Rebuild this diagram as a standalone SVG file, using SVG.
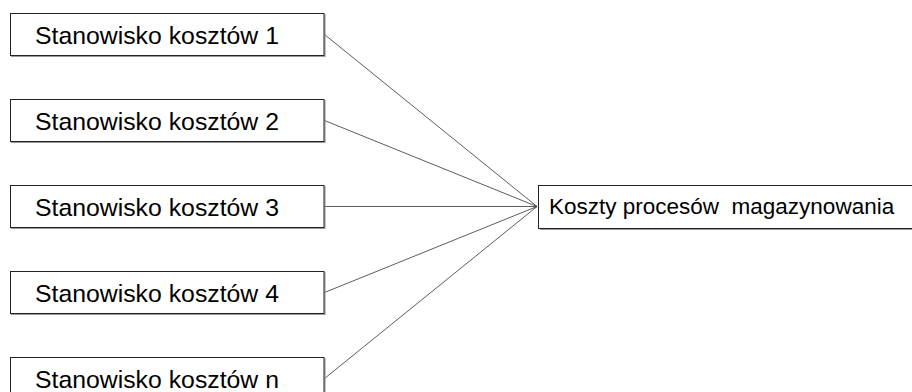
<svg xmlns="http://www.w3.org/2000/svg" width="912" height="392" viewBox="0 0 912 392">
<style>
.box{fill:#fff;stroke:#222;stroke-width:1}
.shadow{fill:none;stroke:#999;stroke-width:1.2}
.lbl{font-family:"Liberation Sans",Arial,sans-serif;font-size:24.8px;fill:#000}
.lblr{font-family:"Liberation Sans",Arial,sans-serif;font-size:22.5px;fill:#000}
.conn{stroke:#333;stroke-width:0.8;fill:none}
</style>
<rect width="912" height="392" fill="#fff"/>
<g id="connectors">
<line class="conn" x1="324.5" y1="34.5" x2="537" y2="206.5"/>
<line class="conn" x1="324.5" y1="120.5" x2="537" y2="206.5"/>
<line class="conn" x1="324.5" y1="206.5" x2="537" y2="206.5"/>
<line class="conn" x1="324.5" y1="292.5" x2="537" y2="206.5"/>
<line class="conn" x1="324.5" y1="378.5" x2="537" y2="206.5"/>
</g>
<g id="node1">
<path class="shadow" d="M11 56.5 H325 V14"/>
<rect class="box" x="10.5" y="13.5" width="313.5" height="42"/>
<text class="lbl" x="35" y="44">Stanowisko kosztów 1</text>
</g>
<g id="node2">
<path class="shadow" d="M11 142.5 H325 V100"/>
<rect class="box" x="10.5" y="99.5" width="313.5" height="42"/>
<text class="lbl" x="35" y="130">Stanowisko kosztów 2</text>
</g>
<g id="node3">
<path class="shadow" d="M11 228.5 H325 V186"/>
<rect class="box" x="10.5" y="185.5" width="313.5" height="42"/>
<text class="lbl" x="35" y="216">Stanowisko kosztów 3</text>
</g>
<g id="node4">
<path class="shadow" d="M11 314.5 H325 V272"/>
<rect class="box" x="10.5" y="271.5" width="313.5" height="42"/>
<text class="lbl" x="35" y="302">Stanowisko kosztów 4</text>
</g>
<g id="noden">
<path class="shadow" d="M11 400.5 H325 V358"/>
<rect class="box" x="10.5" y="357.5" width="313.5" height="42"/>
<text class="lbl" x="35" y="388">Stanowisko kosztów n</text>
</g>
<g id="target">
<path class="shadow" d="M540 229.5 H916"/>
<rect class="box" x="538.5" y="185.5" width="378" height="43"/>
<text class="lblr" x="549" y="213.5" xml:space="preserve">Koszty procesów  magazynowania</text>
</g>
</svg>
